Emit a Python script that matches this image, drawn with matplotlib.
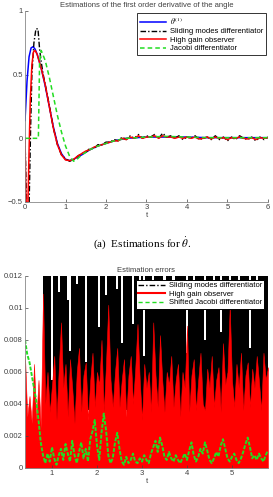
import numpy as np
import matplotlib
matplotlib.use("Agg")
import matplotlib.pyplot as plt

plt.rcParams['font.family'] = ['Liberation Sans', 'DejaVu Sans']
plt.rcParams['mathtext.fontset'] = 'stix'

# ---------- top panel : estimations of the derivative ----------
t_blue = [0, 0.05, 0.1, 0.15, 0.2, 0.25, 0.3, 0.4, 0.5, 0.6, 0.7, 0.8, 0.9, 1.0, 1.1, 1.2,
          1.4, 1.6, 1.8, 2.0, 2.2, 2.5, 3.0, 3.5, 4.0, 4.5, 5.0, 5.5, 6.0]
v_blue = [0.14, 0.45, 0.64, 0.71, 0.72, 0.70, 0.66, 0.55, 0.41, 0.25, 0.09, -0.04, -0.12, -0.165,
          -0.175, -0.165, -0.13, -0.09, -0.06, -0.04, -0.02, 0.0, 0.01, 0.01, 0.01, 0.005, 0.005,
          0.005, 0.005]

# transient part of each estimator, then the noisy tail sampled every 0.1 s
t_tail = [round(0.5 + 0.1 * i, 1) for i in range(56)]

t_black_head = [0, 0.03, 0.06, 0.1, 0.14, 0.17, 0.22, 0.27, 0.32, 0.36, 0.4, 0.45]
v_black_head = [0.0, -0.4, -0.6, -0.55, 0.1, 0.5, 0.75, 0.86, 0.86, 0.7, 0.6, 0.5]
v_black_tail = [0.42, 0.26, 0.08, -0.05, -0.13, -0.16, -0.18, -0.17, -0.14, -0.12, -0.11, -0.08,
                -0.08, -0.05, -0.05, -0.03, -0.03, -0.01, -0.02, 0.01, -0.01, 0.02, 0.0, 0.03,
                0.0, 0.02, 0.01, 0.03, 0.0, 0.04, 0.01, 0.02, 0.0, 0.02, -0.01, 0.01, 0.0, 0.02,
                -0.01, 0.0, 0.01, -0.01, 0.02, -0.01, 0.01, -0.02, 0.01, -0.01, 0.02, 0.0, -0.01,
                0.01, -0.02, 0.01, -0.01, 0.01]

t_red_head = [0, 0.02, 0.04, 0.07, 0.1, 0.13, 0.17, 0.21, 0.25, 0.3, 0.4]
v_red_head = [0.0, -0.4, -0.6, -0.55, -0.1, 0.3, 0.58, 0.68, 0.69, 0.66, 0.55]
v_red_tail = [0.42, 0.25, 0.08, -0.05, -0.13, -0.17, -0.175, -0.165, -0.14, -0.12, -0.10, -0.09,
              -0.07, -0.06, -0.05, -0.04, -0.03, -0.02, -0.02, 0.0, -0.01, 0.01, 0.0, 0.02,
              0.0, 0.01, 0.01, 0.02, 0.0, 0.02, 0.01, 0.01, 0.0, 0.01, 0.0, 0.01, 0.0, 0.01,
              -0.005, 0.0, 0.01, -0.005, 0.01, 0.0, 0.005, -0.01, 0.005, 0.0, 0.01, 0.0, -0.005,
              0.005, -0.01, 0.005, 0.0, 0.005]

t_green = [0, 0.33, 0.36, 0.4, 0.5, 0.6, 0.7, 0.8, 0.9, 1.0, 1.1, 1.2, 1.3, 1.4, 1.6, 1.8,
           2.0, 2.2, 2.5, 3.0, 3.5, 4.0, 4.5, 5.0, 5.5, 6.0]
v_green = [0.0, 0.0, 0.6, 0.69, 0.61, 0.48, 0.33, 0.18, 0.05, -0.06, -0.14, -0.18, -0.16, -0.13,
           -0.09, -0.06, -0.04, -0.02, 0.0, 0.01, 0.015, 0.01, 0.005, 0.005, 0.005, 0.005]

# ---------- bottom panel : estimation errors (x 1e-3), sampled every 0.05 s ----------
t_err = np.round(np.arange(0.40, 5.801, 0.05), 2)

green_err = [8.0, 7.1, 6.6, 5.8, 5.0, 4.2, 3.0, 1.6, 0.8, 0.3,
             0.9, 0.4, 1.3, 0.6, 0.2, 0.8, 1.2, 0.5, 1.5, 0.9,
             0.4, 1.7, 0.8, 0.3, 1.0, 1.6, 0.6, 1.2, 0.4, 1.8,
             2.3, 3.0, 1.4, 0.5, 2.2, 3.4, 2.4, 0.8, 0.3, 0.6,
             1.6, 2.2, 1.2, 0.4, 0.2, 0.7, 0.3, 0.5, 0.9, 0.4,
             0.3, 0.6, 0.4, 0.8, 0.5, 0.3, 0.9, 1.3, 1.7, 1.0,
             1.9, 1.4, 0.7, 0.5, 1.0, 0.6, 0.4, 0.8, 0.5, 0.3,
             0.6, 0.9, 0.5, 1.1, 1.6, 0.8, 0.4, 0.7, 1.2, 0.9,
             1.6, 1.1, 0.5, 0.3, 0.6, 1.0, 0.7, 1.4, 1.8, 1.2,
             0.6, 0.4, 0.7, 0.9, 0.5, 0.3, 0.6, 1.0, 1.5, 1.9,
             1.3, 0.6, 0.8, 0.5, 0.9, 0.6, 0.4, 0.8, 1.1]

red_err = [7.0, 3.2, 4.5, 2.8, 6.5, 3.0, 5.5, 2.5, 10.9, 4.0,
           6.0, 3.5, 5.2, 7.0, 3.0, 6.2, 9.1, 5.0, 6.5, 3.2,
           6.8, 5.0, 2.8, 6.0, 7.5, 3.5, 5.8, 6.6, 3.0, 5.5,
           7.2, 3.8, 6.0, 5.2, 8.0, 3.5, 6.5, 10.2, 5.5, 3.8,
           6.0, 7.5, 3.8, 5.5, 6.8, 3.2, 5.8, 7.0, 4.0, 6.2,
           9.0, 5.5, 3.0, 6.5, 5.0, 6.0, 3.5, 9.1, 5.8, 3.8,
           8.3, 5.5, 3.5, 6.0, 5.2, 7.0, 3.8, 5.5, 6.5, 3.2,
           6.0, 5.0, 8.9, 3.5, 5.8, 6.8, 3.6, 5.5, 7.2, 4.0,
           3.6, 6.2, 5.0, 7.0, 3.8, 5.5, 6.3, 3.5, 7.8, 5.2,
           6.0, 10.1, 5.5, 3.8, 6.5, 5.0, 7.2, 3.6, 5.8, 6.6,
           3.8, 6.2, 5.0, 7.0, 5.4, 3.6, 7.2, 5.5, 6.3]

nan = np.nan
black_low = [nan, nan, nan, nan, nan, nan, nan, nan, 2.0, 2.5,
             3.0, 2.2, 2.8, 3.5, 2.0, 2.6, 3.2, 2.4, 3.0, 2.2,
             3.2, 2.0, 2.6, 3.4, 2.8, 2.4, 2.0, 3.0, 3.6, 2.5,
             2.8, 3.2, 2.2, 3.0, 2.6, 2.0, 3.4, 2.6, 3.2, 2.4,
             3.0, 2.8, 2.2, 3.4, 2.6, 3.6, 2.4, 2.8, 3.2, 2.0,
             2.6, 3.4, 2.8, 3.0, 2.6, 2.2, 3.4, 2.8, 3.6, 2.4,
             3.2, 2.6, 2.0, 3.4, 2.8, 2.4, 3.0, 2.6, 3.6, 2.6,
             2.8, 2.0, 3.2, 2.8, 3.6, 2.4, 3.0, 2.6, 2.2, 3.4,
             2.8, 3.4, 2.6, 2.2, 3.2, 2.8, 3.6, 2.6, 3.0, 2.2,
             3.0, 2.6, 2.4, 3.4, 2.8, 2.2, 3.2, 2.6, 3.6, 2.8,
             3.0, 2.6, 2.4, 3.4, 2.8, 2.6, 3.4, 2.6, 3.0]

black_high = [nan, nan, nan, nan, nan, nan, nan, nan, 12.5, 13.0,
              13.0, 13.0, 5.5, 13.0, 13.0, 11.0, 13.0, 13.0, 13.0, 10.5,
              7.3, 13.0, 13.0, 11.5, 13.0, 13.0, 13.0, 6.6, 13.0, 13.0,
              12.0, 13.0, 13.0, 8.8, 13.0, 13.0, 10.8, 13.0, 13.0, 13.0,
              13.0, 11.2, 13.0, 7.8, 13.0, 13.0, 13.0, 13.0, 9.0, 13.0,
              13.0, 11.0, 13.0, 7.0, 13.0, 13.0, 13.0, 10.5, 13.0, 13.0,
              13.0, 13.0, 11.6, 13.0, 13.0, 13.0, 10.8, 13.0, 13.0, 13.0,
              13.0, 13.0, 7.2, 13.0, 13.0, 11.0, 13.0, 13.0, 13.0, 13.0,
              8.0, 13.0, 13.0, 13.0, 10.6, 13.0, 13.0, 8.5, 13.0, 13.0,
              13.0, 11.4, 13.0, 13.0, 13.0, 10.2, 13.0, 13.0, 13.0, 13.0,
              7.5, 13.0, 13.0, 11.0, 13.0, 13.0, 13.0, 13.0, 12.0]

grey = '#404040'
fig = plt.figure(figsize=(2.73, 4.97), dpi=100)

def style(ax):
    for s in ['top', 'right']:
        ax.spines[s].set_visible(False)
    for s in ['left', 'bottom']:
        ax.spines[s].set_color('#888888')
        ax.spines[s].set_linewidth(0.6)
    ax.tick_params(direction='in', length=2, width=0.5, labelsize=5.5,
                   colors=grey, pad=1.5)

# top axes
ax1 = fig.add_axes([0.0916, 0.5936, 0.890, 0.3843])
ax1.plot(t_blue, v_blue, color='#0000ff', lw=1.1, label='$\\theta^{(1)}$')
ax1.plot(t_black_head + t_tail, v_black_head + v_black_tail, color='black', lw=1.0,
         ls=(0, (4, 1.5, 1, 1.5)), label='Sliding modes differentiator')
ax1.plot(t_red_head + t_tail, v_red_head + v_red_tail, color='#ff0000', lw=1.1,
         label='High gain observer')
ax1.plot(t_green, v_green, color='#22dd22', lw=1.1, ls=(0, (3, 2)),
         label='Jacobi differentiator')
ax1.set_xlim(0, 6)
ax1.set_ylim(-0.5, 1)
ax1.set_xticks([0, 1, 2, 3, 4, 5, 6])
ax1.set_yticks([-0.5, 0, 0.5, 1])
ax1.set_yticklabels(['\u22120.5', '0', '0.5', '1'])
style(ax1)
ax1.set_title('Estimations of the first order derivative of the angle', fontsize=5.5,
              color=grey, pad=3)
ax1.set_xlabel('t', fontsize=5.5, color=grey, labelpad=0.5)
leg1 = ax1.legend(loc='upper right', fontsize=5.5, frameon=True, fancybox=False,
                  edgecolor='black', handlelength=3.5, borderpad=0.3, labelspacing=0.15,
                  handletextpad=0.5, borderaxespad=0.3)
leg1.get_frame().set_linewidth(0.7)

fig.text(0.52, 0.511, '(a)  Estimations for $\\dot{\\theta}$.', ha='center', va='center',
         fontsize=8, family='Liberation Serif')

# bottom axes
ax2 = fig.add_axes([0.0916, 0.0584, 0.890, 0.3863])
scale = 1e-3
ax2.fill_between(t_err, np.array(black_low) * scale, np.array(black_high) * scale,
                 color='black', lw=0, step='mid')
ax2.fill_between(t_err, 0, np.array(red_err) * scale, color='#ff0000', lw=0.4)
ax2.plot(t_err, np.array(green_err) * scale, color='#22dd22', lw=1.4, ls=(0, (2, 0.8)))
ax2.plot([], [], color='black', lw=1.0, ls=(0, (4, 1.5, 1, 1.5)),
         label='Sliding modes differentiator')
ax2.plot([], [], color='#ff0000', lw=1.5, label='High gain observer')
ax2.plot([], [], color='#22dd22', lw=1.0, ls=(0, (3, 2)), label='Shifted Jacobi differentiator')
ax2.set_xlim(0.4, 5.8)
ax2.set_ylim(0, 0.012)
ax2.set_xticks([1, 2, 3, 4, 5])
ax2.set_yticks([0, 0.002, 0.004, 0.006, 0.008, 0.01, 0.012])
ax2.set_yticklabels(['0', '0.002', '0.004', '0.006', '0.008', '0.01', '0.012'])
style(ax2)
ax2.set_title('Estimation errors', fontsize=5.5, color=grey, pad=3)
ax2.set_xlabel('t', fontsize=5.5, color=grey, labelpad=0.5)
leg2 = ax2.legend(loc='upper right', fontsize=5.5, frameon=True, fancybox=False,
                  edgecolor='black', framealpha=1, handlelength=3.5, borderpad=0.3,
                  labelspacing=0.15, handletextpad=0.5, borderaxespad=0.5)
leg2.get_frame().set_linewidth(0.7)

fig.savefig('out.png', dpi=100)
